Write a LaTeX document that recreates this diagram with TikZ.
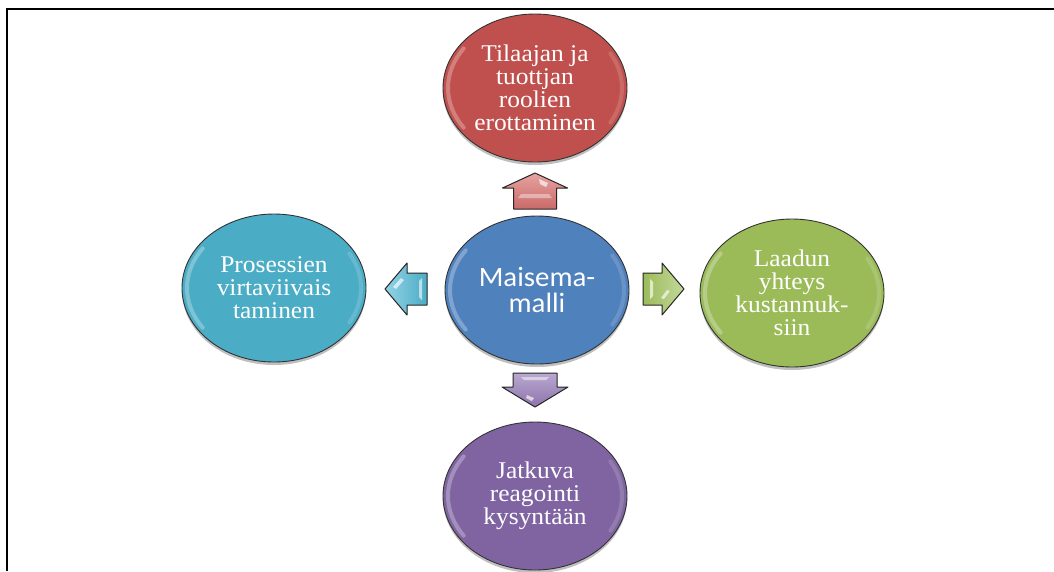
\documentclass[tikz,border=0pt]{standalone}
\usepackage{fontspec}
\setmainfont[FakeStretch=1.06]{Liberation Serif}
\newfontfamily\calibrifont[FakeStretch=1.03]{Carlito}
\usetikzlibrary{shapes.geometric,shadows}
\definecolor{cRed}{HTML}{C0504D}
\definecolor{cBlue}{HTML}{4F81BD}
\definecolor{cGreen}{HTML}{9BBB59}
\definecolor{cPurple}{HTML}{8064A2}
\definecolor{cTeal}{HTML}{4BACC6}
\definecolor{cRedL}{HTML}{E6A3A1}
\definecolor{cGreenL}{HTML}{C3D89A}
\definecolor{cPurpleL}{HTML}{B9A8D0}
\definecolor{cTealL}{HTML}{93D3E4}
\tikzset{
  frameline/.style={line width=2pt, black},
  bubble/.style={ellipse, draw=black!80, line width=0.9pt,
    minimum width=184pt, minimum height=148pt, inner sep=0pt,
    text=white, align=center,
    font=\fontsize{24}{23}\selectfont,
    drop shadow={shadow xshift=0pt, shadow yshift=-3pt, opacity=0.25, fill=black}},
  centerbubble/.style={bubble, font=\calibrifont\fontsize{28}{26}\selectfont},
  gloss/.style={draw=white, opacity=0.28, line width=4pt, line cap=round},
  fatarrow/.style={draw=black!85, line width=1pt, line join=round},
  shine/.style={fill=white, opacity=0.65},
}
\begin{document}
\begin{tikzpicture}[x=1pt,y=-1pt]
\useasboundingbox (0,0) rectangle (1054,571);
\fill[white] (0,0) rectangle (1054,571);
\draw[frameline] (1054,9) -- (7,9) -- (7,571);

% bubbles
\node[bubble, fill=cRed] (top) at (535,88) {Tilaajan ja\\tuottjan\\roolien\\erottaminen};
\node[bubble, fill=cTeal] (left) at (274,288) {Prosessien\\virtaviivais\\taminen};
\node[bubble, fill=cGreen] (right) at (792,293) {Laadun\\yhteys\\kustannuk-\\siin};
\node[bubble, fill=cPurple] (bottom) at (535,496) {Jatkuva\\reagointi\\kysyntään};
\node[centerbubble, fill=cBlue] (mid) at (537,290) {Maisema-\\malli};

% gloss highlights
\foreach \n in {top,left,right,bottom,mid}{
  \path[gloss] (\n.center) ++(145:87 and 69) arc[start angle=145, end angle=215, x radius=87, y radius=69];
  \path[gloss, opacity=0.15] (\n.center) ++(-30:87 and 69) arc[start angle=-30, end angle=30, x radius=87, y radius=69];
}

% arrows
\coordinate (tipU) at (535,173);
\coordinate (tipD) at (535,407);
\coordinate (tipL) at (385,289);
\coordinate (tipR) at (684,289);

\draw[fatarrow, top color=cRedL, bottom color=cRed!85] (tipU) -- ++(32.5,15) -- ++(-11,0) -- ++(0,21) -- ++(-43,0) -- ++(0,-21) -- ++(-11,0) -- cycle;
\fill[shine] (tipU) ++(4,6) -- ++(9,4) -- ++(-2,4) -- ++(-6,-3) -- cycle;
\fill[shine, opacity=0.4] (tipU) ++(-14,21) -- ++(28,0) -- ++(3,4) -- ++(-34,0) -- cycle;

\draw[fatarrow, top color=cPurpleL, bottom color=cPurple!90] (tipD) -- ++(33,-20) -- ++(-11,0) -- ++(0,-14) -- ++(-44,0) -- ++(0,14) -- ++(-11,0) -- cycle;
\fill[shine, opacity=0.5] (tipD) ++(-14,-30) -- ++(28,0) -- ++(-3,3) -- ++(-22,0) -- cycle;
\fill[shine] (tipD) ++(-8,-12) -- ++(7,3) -- ++(-2,3) -- ++(-6,-3) -- cycle;

\draw[fatarrow, left color=cTealL, right color=cTeal] (tipL) -- ++(22,-26) -- ++(0,10) -- ++(20,0) -- ++(0,32) -- ++(-20,0) -- ++(0,10) -- cycle;
\fill[shine] (tipL) ++(8,-2) -- ++(8,-9) -- ++(3,2) -- ++(-8,9) -- cycle;
\fill[shine, opacity=0.6] (tipL) ++(34,-8) -- ++(3,-3) -- ++(0,22) -- ++(-3,-3) -- cycle;

\draw[fatarrow, left color=cGreen, right color=cGreenL] (tipR) -- ++(-22,-26) -- ++(0,10) -- ++(-19,0) -- ++(0,32) -- ++(19,0) -- ++(0,10) -- cycle;
\fill[shine] (tipR) ++(-34,-10) -- ++(3,3) -- ++(0,14) -- ++(-3,3) -- cycle;
\fill[shine] (tipR) ++(-14,2) -- ++(-6,8) -- ++(-3,-1) -- ++(6,-8) -- cycle;
\end{tikzpicture}
\end{document}
